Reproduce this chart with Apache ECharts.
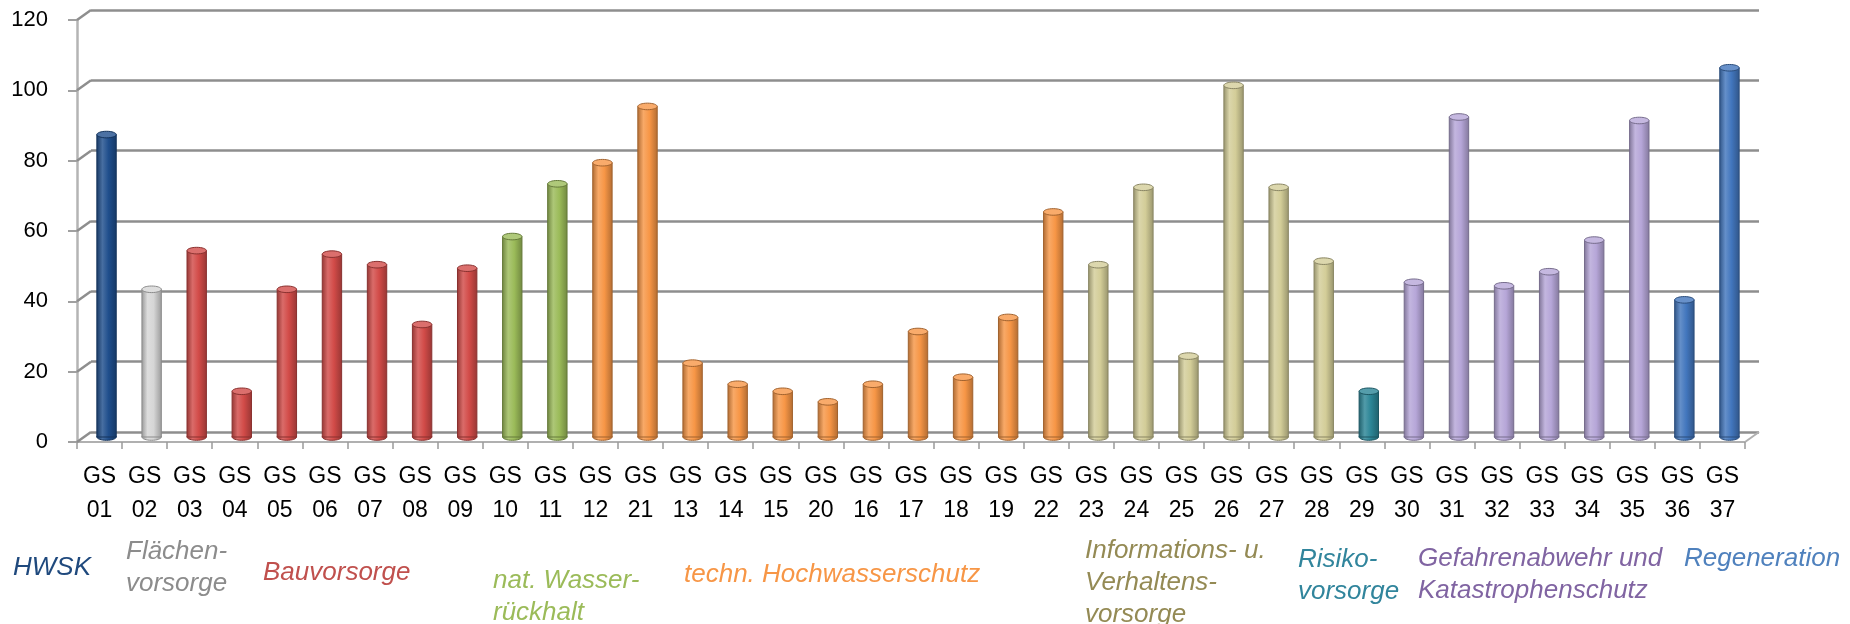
<!DOCTYPE html>
<html>
<head>
<meta charset="utf-8">
<script src="https://cdn.jsdelivr.net/npm/echarts@6/dist/echarts.min.js"></script>
<style>
  html, body { margin: 0; padding: 0; background: #fff; }
  #main { width: 1850px; height: 624px; }
</style>
</head>
<body>
<div id="main"></div>
<script>
// GS-Nummern in der Reihenfolge des Diagramms
const codes = ['01', '02', '03', '04', '05', '06', '07', '08', '09', '10', '11', '12', '21', '13', '14', '15', '20', '16', '17', '18', '19', '22', '23', '24', '25', '26', '27', '28', '29', '30', '31', '32', '33', '34', '35', '36', '37'];
const values = [86, 42, 53, 13, 42, 52, 49, 32, 48, 57, 72, 78, 94, 21, 15, 13, 10, 15, 30, 17, 34, 64, 49, 71, 23, 100, 71, 50, 13, 44, 91, 43, 47, 56, 90, 39, 105];
// Gruppe je Kategorie (Index in groupNames)
const groupOf = [0, 1, 2, 2, 2, 2, 2, 2, 2, 3, 3, 4, 4, 4, 4, 4, 4, 4, 4, 4, 4, 4, 5, 5, 5, 5, 5, 5, 6, 7, 7, 7, 7, 7, 7, 8, 8];
const groupNames = ['HWSK', 'Flächen-\nvorsorge', 'Bauvorsorge', 'nat. Wasser-\nrückhalt', 'techn. Hochwasserschutz', 'Informations- u.\nVerhaltens-\nvorsorge', 'Risiko-\nvorsorge', 'Gefahrenabwehr und\nKatastrophenschutz', 'Regeneration'];
const yTicks = [0, 20, 40, 60, 80, 100, 120];

// Farben
const barColors = ['#1f4e8c', '#d6d6d6', '#d24b48', '#9bbb59', '#f79646', '#d3cd98', '#2b8596', '#b6a6d8', '#4276bd'];
const textColors = ['#1f497d', '#8c8c8c', '#c0504d', '#9bbb59', '#f79646', '#948a54', '#31859c', '#8064a2', '#4f81bd'];
// Position der Gruppenbeschriftungen [left, top]
const groupPos = [[13, 552], [126, 536], [263, 557], [493, 565], [684, 559], [1085, 535], [1298, 544], [1418, 543], [1684, 543]];

const FONT = '"Liberation Sans", Arial, sans-serif';
const GRID_GRAY = '#8e8e8e';
const DX = 14, DY = -10;

function mix(hex, to, t) {
  const a = parseInt(hex.slice(1), 16), b = parseInt(to.slice(1), 16);
  const r = Math.round(((a >> 16) & 255) * (1 - t) + ((b >> 16) & 255) * t);
  const g = Math.round(((a >> 8) & 255) * (1 - t) + ((b >> 8) & 255) * t);
  const bl = Math.round((a & 255) * (1 - t) + (b & 255) * t);
  return 'rgb(' + r + ',' + g + ',' + bl + ')';
}

const chart = echarts.init(document.getElementById('main'));

// Zylinder
const renderCylinder = (params, api) => {
  const i = api.value(0);
  const v = api.value(1);
  const base = api.coord([i, 0]);
  const top = api.coord([i, v]);
  const w = api.size([1, 0])[0] * 0.43;
  const cx = base[0], rx = w / 2, ry = w * 0.17;
  const c = barColors[groupOf[i]];
  const edge = mix(c, '#000000', 0.35);
  const grad = new echarts.graphic.LinearGradient(0, 0, 1, 0, [
    { offset: 0, color: mix(c, '#000000', 0.3) },
    { offset: 0.3, color: mix(c, '#ffffff', 0.18) },
    { offset: 0.6, color: c },
    { offset: 1, color: mix(c, '#000000', 0.28) }
  ]);
  return {
    type: 'group',
    children: [
      { type: 'ellipse', shape: { cx: cx, cy: base[1], rx: rx, ry: ry }, style: { fill: grad, stroke: edge, lineWidth: 1 } },
      { type: 'rect', shape: { x: cx - rx, y: top[1], width: w, height: base[1] - top[1] }, style: { fill: grad, stroke: edge, lineWidth: 1 } },
      { type: 'ellipse', shape: { cx: cx, cy: top[1], rx: rx, ry: ry }, style: { fill: mix(c, '#ffffff', 0.2), stroke: edge, lineWidth: 1 } }
    ]
  };
};

// Verbindungslinien der Seitenwand und des Bodens
const renderWall = (params, api) => {
  const y = api.coord([0, api.value(1)])[1];
  const x0 = params.coordSys.x;
  const style = { stroke: GRID_GRAY, lineWidth: 2.5 };
  const children = [
    { type: 'line', shape: { x1: x0, y1: y, x2: x0 + DX, y2: y + DY }, style: style }
  ];
  if (api.value(1) === 0) {
    const x1 = x0 + params.coordSys.width;
    children.push({ type: 'line', shape: { x1: x1, y1: y, x2: x1 + DX, y2: y + DY }, style: { stroke: '#b0b0b0', lineWidth: 2 } });
  }
  return { type: 'group', children: children };
};

const gridW = 1668, gridH = 422;

const option = {
  animation: false,
  grid: [
    { left: 77, top: 20, width: gridW, height: gridH },
    { left: 77 + DX, top: 20 + DY, width: gridW, height: gridH },
    { left: 77 + DX / 2, top: 20 + DY / 2, width: gridW, height: gridH }
  ],
  xAxis: [
    {
      type: 'category', gridIndex: 0, data: codes,
      axisLine: { lineStyle: { color: '#b0b0b0', width: 2 } },
      axisTick: { show: true, interval: 0, length: 7, lineStyle: { color: '#9a9a9a', width: 1.5 } },
      axisLabel: {
        interval: 0, margin: 18, color: '#000', fontSize: 23, lineHeight: 34, fontFamily: FONT,
        formatter: (c) => 'GS\n' + c
      }
    },
    { type: 'category', gridIndex: 1, data: codes, show: false },
    { type: 'category', gridIndex: 2, data: codes, show: false }
  ],
  yAxis: [
    {
      type: 'value', gridIndex: 0, min: 0, max: 120, interval: 20,
      axisLine: { show: true, lineStyle: { color: '#b4b4b4', width: 2.5 } },
      axisTick: { show: true, length: 9, lineStyle: { color: '#a0a0a0', width: 2 } },
      axisLabel: { margin: 29, color: '#000', fontSize: 22, fontFamily: FONT },
      splitLine: { show: false }
    },
    {
      type: 'value', gridIndex: 1, min: 0, max: 120, interval: 20,
      axisLine: { show: false }, axisTick: { show: false }, axisLabel: { show: false },
      splitLine: { show: true, lineStyle: { color: GRID_GRAY, width: 2.5 } }
    },
    { type: 'value', gridIndex: 2, min: 0, max: 120, interval: 20, show: false, splitLine: { show: false } }
  ],
  series: [
    {
      type: 'custom', name: 'wall', xAxisIndex: 0, yAxisIndex: 0, silent: true, z: 1,
      renderItem: renderWall,
      data: yTicks.map(v => [0, v])
    },
    {
      type: 'custom', name: 'Anzahl', xAxisIndex: 2, yAxisIndex: 2, z: 3,
      renderItem: renderCylinder,
      data: values.map((v, i) => [i, v])
    }
  ],
  graphic: groupNames.map((name, g) => ({
    type: 'text',
    left: groupPos[g][0],
    top: groupPos[g][1],
    style: {
      text: name,
      fill: textColors[g],
      fontSize: 26,
      fontStyle: 'italic',
      fontFamily: FONT,
      lineHeight: 32
    }
  }))
};

chart.setOption(option);
window.addEventListener('resize', () => chart.resize());
</script>
</body>
</html>
